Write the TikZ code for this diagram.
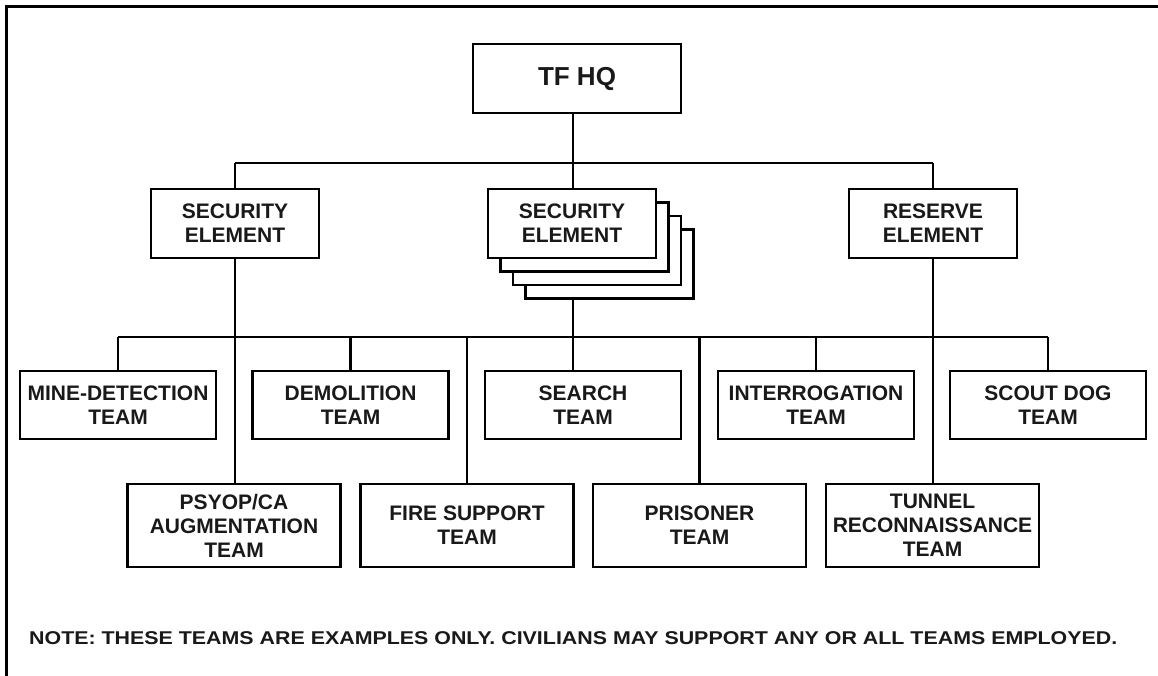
\documentclass[tikz,border=0pt]{standalone}
\usepackage{fontspec}
\setmainfont{Liberation Sans}
\begin{document}
\begin{tikzpicture}[x=1pt,y=-1pt,
  ln/.style={line width=2.3pt, draw=black},
  box/.style={ln, fill=white, rectangle, align=center, inner sep=0pt,
    font=\bfseries\fontsize{21}{24}\selectfont, text=black!90},
  el/.style={box, minimum width=168pt, minimum height=69pt},
  tm/.style={box, minimum width=196pt, minimum height=68pt},
  tm2/.style={box, minimum width=213pt, minimum height=83pt}]
\useasboundingbox (0,0) rectangle (1158,676);
% frame (top and left)
\draw[line width=3pt] (1158,7) -- (6,7) -- (6,676);
% top
\node[box, minimum width=208pt, minimum height=69pt, font=\bfseries\fontsize{26}{30}\selectfont] (hq) at (577,78.5) {TF HQ};
\node[el] (secL) at (235,223.5) {SECURITY\\ELEMENT};
\node[el] (sec3) at (609.5,264) {};
\node[el] (sec2) at (597,250.5) {};
\node[el] (sec1) at (584.5,237) {};
\node[el] (secM) at (572,223.5) {SECURITY\\ELEMENT};
\node[el] (res) at (933,223.5) {RESERVE\\ELEMENT};
% row 1
\node[tm] (mine) at (118,405) {MINE-DETECTION\\TEAM};
\node[tm] (demo) at (350.5,405) {DEMOLITION\\TEAM};
\node[tm] (search) at (583,405) {SEARCH\\TEAM};
\node[tm] (interr) at (816,405) {INTERROGATION\\TEAM};
\node[tm] (scout) at (1048,405) {SCOUT DOG\\TEAM};
% row 2
\node[tm2] (psyop) at (234,525.5) {PSYOP/CA\\AUGMENTATION\\TEAM};
\node[tm2] (fire) at (467,525.5) {FIRE SUPPORT\\TEAM};
\node[tm2] (pris) at (699.5,525.5) {PRISONER\\TEAM};
\node[tm2] (tunnel) at (932.5,525.5) {TUNNEL\\RECONNAISSANCE\\TEAM};
% buses
\coordinate (busA) at (573,163);
\coordinate (busB) at (573,337);
\coordinate (hqx) at (573,113);
\coordinate (secMx) at (573,189);
\coordinate (stackx) at (573,299);
\coordinate (searchx) at (573,371);
\draw[ln] (hqx) -- (busA);
\draw[ln] (secL.north |- busA) -- (res.north |- busA);
\draw[ln] (busA) -- (secMx);
\draw[ln] (secL.north |- busA) -- (secL.north);
\draw[ln] (res.north |- busA) -- (res.north);
\draw[ln] (secL.south) -- (secL.south |- psyop.north);
\draw[ln] (res.south) -- (res.south |- tunnel.north);
\draw[ln] (stackx) -- (busB);
\draw[ln] (mine.north |- busB) -- (scout.north |- busB);
\draw[ln] (mine.north |- busB) -- (mine.north);
\draw[ln] (demo.north |- busB) -- (demo.north);
\draw[ln] (busB) -- (searchx);
\draw[ln] (interr.north |- busB) -- (interr.north);
\draw[ln] (scout.north |- busB) -- (scout.north);
\draw[ln] (fire.north |- busB) -- (fire.north);
\draw[ln] (pris.north |- busB) -- (pris.north);
% note
\node[anchor=west, inner sep=0pt, text=black!90, font=\bfseries\fontsize{18.5}{22}\selectfont] (note) at (29,638)
  {\scalebox{1.156}[1]{NOTE: THESE TEAMS ARE EXAMPLES ONLY. CIVILIANS MAY SUPPORT ANY OR ALL TEAMS EMPLOYED.}};
\end{tikzpicture}
\end{document}
